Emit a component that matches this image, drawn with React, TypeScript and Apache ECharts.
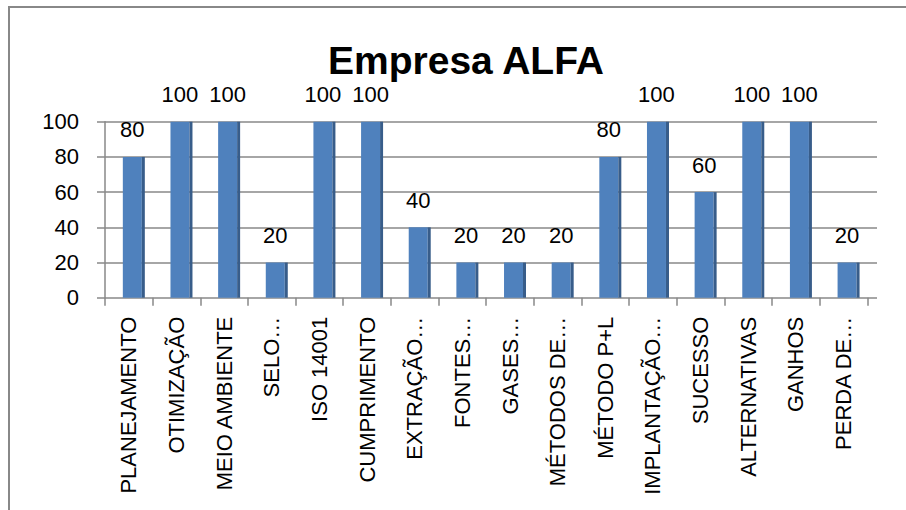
import React, { useEffect, useRef } from "react";
import * as echarts from "echarts";

const categories = [
  "PLANEJAMENTO",
  "OTIMIZAÇÃO",
  "MEIO AMBIENTE",
  "SELO…",
  "ISO 14001",
  "CUMPRIMENTO",
  "EXTRAÇÃO…",
  "FONTES…",
  "GASES…",
  "MÉTODOS DE…",
  "MÉTODO P+L",
  "IMPLANTAÇÃO…",
  "SUCESSO",
  "ALTERNATIVAS",
  "GANHOS",
  "PERDA DE…",
];
const values = [80, 100, 100, 20, 100, 100, 40, 20, 20, 20, 80, 100, 60, 100, 100, 20];
const yTicks = [0, 20, 40, 60, 80, 100];
const titleText = "Empresa ALFA";

const FONT = "'Liberation Sans', Arial, sans-serif";
const GRAY = "#888888";

export default function App() {
  const ref = useRef<HTMLDivElement>(null);
  useEffect(() => {
    if (!ref.current) return;
    const chart = echarts.init(ref.current, undefined, { renderer: "svg" });
    const yMin = yTicks[0];
    const yMax = yTicks[yTicks.length - 1];
    const yStep = yTicks[1] - yTicks[0];
    chart.setOption({
      animation: false,
      backgroundColor: "#ffffff",
      title: {
        text: titleText,
        left: 323,
        top: 36,
        textStyle: {
          fontFamily: FONT,
          fontWeight: "bold",
          fontSize: 39,
          lineHeight: 39,
          color: "#000000",
        },
      },
      graphic: [
        {
          type: "rect",
          shape: { x: 9, y: 7, width: 1000, height: 1000 },
          style: { fill: "none", stroke: GRAY, lineWidth: 2 },
          silent: true,
        },
      ],
      grid: [
        { left: 105, right: 29, top: 121.7, bottom: 212.3 },
        { left: 105, right: 38.6, top: 121.7, bottom: 212.3 },
      ],
      xAxis: [
        { type: "value", gridIndex: 0, show: false, min: 0, max: 1 },
        {
          type: "category",
          gridIndex: 1,
          data: categories,
          axisLine: { show: false },
          axisTick: {
            show: true,
            length: 8,
            interval: 0,
            lineStyle: { color: GRAY, width: 1.5 },
          },
          axisLabel: {
            interval: 0,
            rotate: 90,
            margin: 19,
            fontFamily: FONT,
            fontSize: 22,
            color: "#000000",
          },
        },
      ],
      yAxis: [
        {
          type: "value",
          gridIndex: 0,
          min: yMin,
          max: yMax,
          interval: yStep,
          axisLine: { show: true, lineStyle: { color: GRAY, width: 1.5 } },
          axisTick: { show: true, length: 8, lineStyle: { color: GRAY, width: 1.5 } },
          splitLine: { show: true, lineStyle: { color: GRAY, width: 1.5 } },
          axisLabel: {
            margin: 26,
            fontFamily: FONT,
            fontSize: 22,
            color: "#000000",
            padding: [5, 0, 0, 0],
          },
        },
        {
          type: "value",
          gridIndex: 1,
          min: yMin,
          max: yMax,
          interval: yStep,
          show: false,
        },
      ],
      series: [
        {
          type: "bar",
          xAxisIndex: 1,
          yAxisIndex: 1,
          data: values,
          barWidth: 10,
          barGap: "0%",
          itemStyle: { color: "rgba(0,0,0,0)" },
          silent: true,
        },
        {
          type: "bar",
          xAxisIndex: 1,
          yAxisIndex: 1,
          data: values,
          barWidth: 19,
          barGap: "0%",
          itemStyle: { color: "#4F81BD" },
          label: {
            show: true,
            position: "top",
            distance: 16,
            fontFamily: FONT,
            fontSize: 22,
            lineHeight: 22,
            color: "#000000",
          },
        },
        {
          type: "bar",
          xAxisIndex: 1,
          yAxisIndex: 1,
          data: values,
          barWidth: 3,
          barGap: "0%",
          itemStyle: { color: "#385D8A" },
        },
      ],
    });
    return () => chart.dispose();
  }, []);
  return (
    <div
      ref={ref}
      style={{ position: "fixed", left: 0, top: 0, width: 906, height: 510 }}
    />
  );
}
